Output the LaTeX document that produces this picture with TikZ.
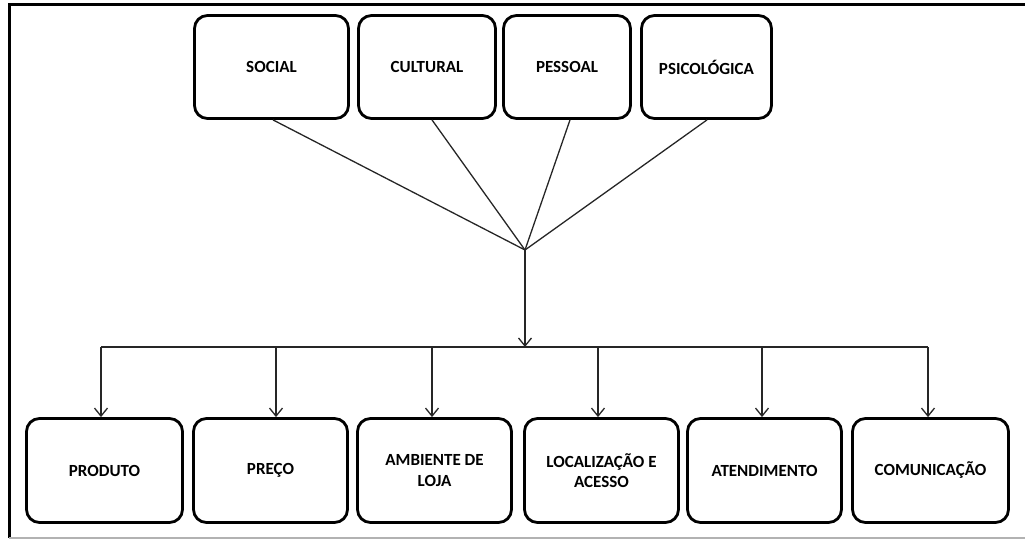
\documentclass[tikz,border=0pt]{standalone}
\usepackage{fontspec}
\setmainfont{Carlito}
\usetikzlibrary{arrows.meta}
\begin{document}
\begin{tikzpicture}[x=1pt,y=-1pt,
  box/.style={draw, fill=white, line width=2.8pt, rounded corners=13pt, align=center,
    font=\fontsize{17}{20.5}\selectfont\bfseries, inner sep=2pt},
  topbox/.style={box, minimum height=103pt},
  botbox/.style={box, minimum height=104pt, minimum width=154pt},
  link/.style={line width=1.3pt, draw=black!85},
  arr/.style={link, -{Straight Barb[length=8pt,width=13pt,line width=1.3pt]}}
]
\useasboundingbox (0,0) rectangle (1025,540);

% outer frame
\draw[line width=3pt] (1030,5) -- (9,5) -- (9,538);
\draw[gray!60, line width=1.2pt] (9,538) -- (1030,538);

% influencing factors
\node[topbox, minimum width=154pt] (soc) at (271.5,67) {SOCIAL};
\node[topbox, minimum width=137pt] (cul) at (427,67) {CULTURAL};
\node[topbox, minimum width=127pt] (pes) at (567,67) {PESSOAL};
\node[topbox, minimum width=130pt] (psi) at (706.5,67) {PSICOLÓGICA};

% store attributes
\node[botbox, minimum width=156pt] (prod) at (104.5,470.5) {PRODUTO};
\node[botbox] (prec) at (270.5,470.5) {PREÇO};
\node[botbox] (amb) at (434.5,470.5) {AMBIENTE DE\\LOJA};
\node[botbox] (loc) at (601.5,470.5) {LOCALIZAÇÃO E\\ACESSO};
\node[botbox] (ate) at (764.5,470.5) {ATENDIMENTO};
\node[botbox, minimum width=156pt] (com) at (930.5,470.5) {COMUNICAÇÃO};

% convergence point and distribution bus
\coordinate (hub) at (525,250);
\coordinate (bus) at (525,347);
\coordinate (b1) at (101,347);
\coordinate (b2) at (276,347);
\coordinate (b3) at (432,347);
\coordinate (b4) at (598,347);
\coordinate (b5) at (762,347);
\coordinate (b6) at (928,347);

\draw[link] ([xshift=1.5pt]soc.south) -- (hub);
\draw[link] ([xshift=5pt]cul.south) -- (hub);
\draw[link] ([xshift=3pt]pes.south) -- (hub);
\draw[link] ([xshift=0.5pt]psi.south) -- (hub);

\draw[arr] (hub) -- (bus);
\draw[link] (b1) -- (b6);

\draw[arr] (b1) -- (b1 |- prod.north);
\draw[arr] (b2) -- (b2 |- prec.north);
\draw[arr] (b3) -- (b3 |- amb.north);
\draw[arr] (b4) -- (b4 |- loc.north);
\draw[arr] (b5) -- (b5 |- ate.north);
\draw[arr] (b6) -- (b6 |- com.north);
\end{tikzpicture}
\end{document}
